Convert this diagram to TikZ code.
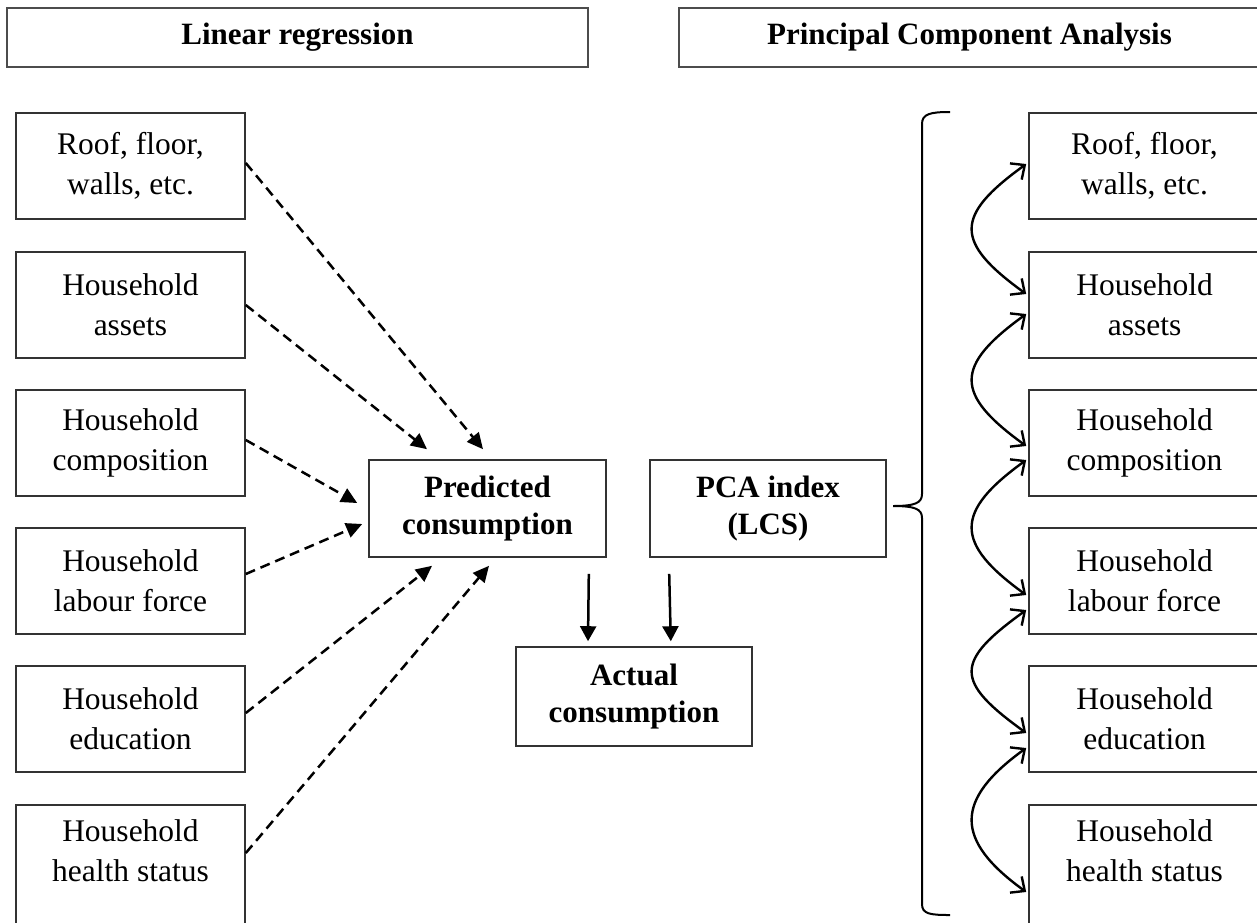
\documentclass[tikz,border=0pt]{standalone}
\usepackage{fontspec}
\setmainfont{Liberation Serif}
\usetikzlibrary{arrows.meta,calc}
\begin{document}
\begin{tikzpicture}[x=1pt,y=-1pt,
  every node/.style={font=\fontsize{31.5}{40}\selectfont, align=center, inner sep=0pt},
  box/.style={draw=black!80, line width=1.6pt, minimum width=229pt, minimum height=106pt},
  rbox/.style={box, minimum width=231pt},
  mbox/.style={draw=black!80, line width=1.6pt, minimum width=237pt, minimum height=97pt, font=\fontsize{31}{37}\selectfont\bfseries},
  titlebox/.style={draw=black!70, line width=2.6pt, minimum width=581pt, minimum height=59pt, font=\fontsize{31}{37}\selectfont\bfseries},
  dasharrow/.style={line width=2.5pt, dash pattern=on 10pt off 6pt, -{Triangle[length=16pt,width=15pt]}},
  solidarrow/.style={line width=2.5pt, -{Triangle[length=15pt,width=16pt]}},
  barbarrow/.style={line width=2.4pt, {Straight Barb[length=11pt,width=20pt]}-{Straight Barb[length=11pt,width=20pt]}},
]
\useasboundingbox (0,0) rectangle (1257,922);

% titles
\node[titlebox] (tL) at (297.5,37.5) {Linear regression};
\node[titlebox] (tR) at (969.5,37.5) {Principal Component Analysis};

% left column
\node[box] (l1) at (130.5,166) {Roof, floor,\\walls, etc.};
\node[box] (l2) at (130.5,305) {Household\\assets};
\node[box] (l3) at (130.5,443) {Household\\composition};
\node[box] (l4) at (130.5,581) {Household\\labour force};
\node[box] (l5) at (130.5,719) {Household\\education};
\node[box, minimum height=150pt, anchor=north] (l6) at (130.5,804) {};
\node (l6t) at (130.5,851) {Household\\health status};

% right column
\node[rbox] (r1) at (1144.5,166) {Roof, floor,\\walls, etc.};
\node[rbox] (r2) at (1144.5,305) {Household\\assets};
\node[rbox] (r3) at (1144.5,443) {Household\\composition};
\node[rbox] (r4) at (1144.5,581) {Household\\labour force};
\node[rbox] (r5) at (1144.5,719) {Household\\education};
\node[rbox, minimum height=150pt, anchor=north] (r6) at (1144.5,804) {};
\node (r6t) at (1144.5,851) {Household\\health status};

% middle
\node[mbox] (pred) at (487.5,508.5) {Predicted\\consumption};
\node[mbox, minimum width=236pt] (pca) at (768,508.5) {PCA index\\(LCS)};
\node[mbox, minimum width=236pt, minimum height=99pt] (act) at (634,696.5) {Actual\\consumption};

% dashed arrows
\draw[dasharrow] ([shift={(0,-3)}]l1.east) -- ([shift={(-4.5,-10)}]pred.north);
\draw[dasharrow] (l2.east) -- ([shift={(-60.5,-10)}]pred.north);
\draw[dasharrow] ([shift={(0,-3)}]l3.east) -- ([shift={(-11,-5.5)}]pred.west);
\draw[dasharrow] ([shift={(0,-7)}]l4.east) -- ([shift={(-6,15.5)}]pred.west);
\draw[dasharrow] ([shift={(0,-6)}]l5.east) -- ([shift={(-55.5,8)}]pred.south);
\draw[dasharrow] ([shift={(0,49)}]l6.north east) -- ([shift={(1.5,8)}]pred.south);

% solid arrows
\draw[solidarrow] ([shift={(-18,16)}]pred.south east) -- ([shift={(-46,-5)}]act.north);
\draw[solidarrow] ([shift={(20,16)}]pca.south west) -- ([shift={(-82,-5)}]act.north east);

% brace
\draw[line width=2pt] (950,112) .. controls (930,112) and (922,114) .. (922,124)
  -- (922,494) .. controls (922,503) and (915,506) .. (893,506)
  .. controls (915,506) and (922,509) .. (922,518)
  -- (922,904) .. controls (922,914) and (930,915) .. (950,915);

% curved double arrows
\coordinate (a1) at ([shift={(-2,-2)}]r1.west);
\coordinate (a2) at ([shift={(-2,-11)}]r2.west);
\coordinate (a3) at ([shift={(-2,9)}]r2.west);
\coordinate (a4) at ([shift={(-2,3)}]r3.west);
\coordinate (a5) at ([shift={(-2,17)}]r3.west);
\coordinate (a6) at ([shift={(-2,14)}]r4.west);
\coordinate (a7) at ([shift={(-2,29)}]r4.west);
\coordinate (a8) at ([shift={(-2,14)}]r5.west);
\coordinate (a9) at ([shift={(-2,29)}]r5.west);
\coordinate (a10) at ([shift={(-2,88)}]r6.north west);
\foreach \s/\e in {a1/a2,a3/a4,a5/a6,a7/a8,a9/a10}{
  \draw[barbarrow] (\s) .. controls ($(\s)+(-72,52)$) and ($(\e)+(-72,-52)$) .. (\e);
}
\end{tikzpicture}
\end{document}
